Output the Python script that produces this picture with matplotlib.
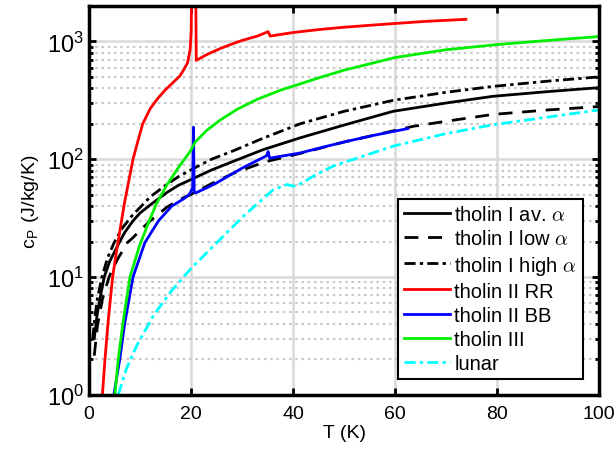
import matplotlib.pyplot as plt
import numpy as np

plt.rcParams['font.family'] = ['Liberation Sans', 'DejaVu Sans']
plt.rcParams['mathtext.fontset'] = 'cm'

# tholin I (average, low and high alpha)
T_av   = [1.0, 1.5, 2.1, 2.95, 4, 5.9, 7, 8.6, 10, 12, 15.2, 17.5, 19.9, 24, 28.3, 34, 41.4, 50,
          59.6, 70, 79.2, 90, 100]
cp_av  = [3.0, 4.6, 6.5, 10, 13.5, 19.6, 24, 30, 35, 41, 52, 60, 67, 81, 96, 120, 152, 195,
          255, 300, 342, 375, 405]
T_lo   = [1.0, 1.6, 2.6, 3.9, 5.5, 7.5, 8.6, 10, 12, 15.2, 17.5, 19.9, 24, 28.3, 34.5, 41.4, 50,
          63.5, 70, 79.2, 90, 100]
cp_lo  = [2.15, 3.8, 6.5, 10, 14, 19.6, 21.6, 25, 30, 39, 45, 50, 62, 76, 95, 112, 140,
          190, 210, 240, 262, 280]
T_hi   = [0.7, 1.1, 1.6, 2.5, 3.6, 4.9, 6.5, 8.6, 10, 12, 15.2, 17.5, 19.9, 24, 28.3, 34, 41.4,
          50, 59.6, 70, 79.2, 90, 100]
cp_hi  = [3.0, 4.5, 6.5, 10, 14.5, 19.6, 26, 34, 39, 48, 61, 71, 81, 100, 118, 150, 200,
          255, 316, 370, 415, 460, 500]
# tholin II RR
T_rr   = [2.6, 3.1, 3.7, 4.6, 5.5, 6.9, 8.6, 9.6, 10.5, 12, 13.5, 15, 16.5, 17.8, 18.6, 19.3,
          19.8, 20.0, 20.1, 20.9, 21.0, 23, 25.7, 28, 30, 33, 35.1, 35.5, 40, 45, 50, 55, 60, 66,
          73.9]
cp_rr  = [1.0, 2.0, 4.1, 10, 18, 42, 100, 145, 200, 270, 330, 390, 450, 510, 580, 660,
          850, 1200, 3000, 3000, 690, 770, 870, 950, 1020, 1110, 1210, 1110, 1190, 1260, 1320,
          1370, 1420, 1480, 1540]
# tholin II BB
T_bb   = [4.85, 5.4, 6.0, 7.0, 8.6, 10.9, 13.6, 16.2, 18.5, 19.6, 20.3, 20.45, 20.6, 21, 23, 25,
          30, 34.8, 35.1, 35.4, 41.4, 46, 50.6, 56, 62.5]
cp_bb  = [1.0, 1.4, 2.0, 4.1, 10, 19.5, 30, 40, 46, 50, 57, 187, 52, 52, 57, 63,
          84, 107, 116, 102, 113, 127, 142, 160, 182]
# tholin III
T_iii  = [5.05, 5.7, 6.6, 8.0, 9.8, 11.5, 13.2, 15.2, 17.5, 19.9, 20.8, 23, 25.7, 29, 33,
          37.5, 45, 50, 60, 70, 80, 90, 100]
cp_iii = [1.0, 2.0, 4.0, 10, 18, 28, 42, 60, 85, 118, 140, 175, 215, 265, 323,
          385, 490, 570, 730, 850, 940, 1020, 1100]
# lunar
T_lun  = [5.7, 7.3, 9.3, 12.6, 15.9, 19.8, 25, 30.3, 36.1, 38.8, 40.0, 41.5, 44, 48, 53.7,
          59.6, 70, 79.2, 90, 100]
cp_lun = [1.0, 1.66, 2.6, 4.7, 7.4, 11.6, 19.5, 33, 55, 61, 59, 62, 72, 88, 106,
          129, 165, 196, 228, 262]

fig = plt.figure(figsize=(6.15, 4.64), dpi=100)
ax = fig.add_axes([0.145, 0.147, 0.829, 0.838])

lw = 2
ax.plot(T_av, cp_av, color='k', lw=lw, label=r'tholin I av. $\alpha$')
ax.plot(T_lo, cp_lo, color='k', lw=lw, dashes=(5, 3.5), label=r'tholin I low $\alpha$')
ax.plot(T_hi, cp_hi, color='k', lw=lw, dashes=(4, 1.5, 1.2, 1.5), label=r'tholin I high $\alpha$')
ax.plot(T_rr, cp_rr, color='#ff0000', lw=lw, label='tholin II RR')
ax.plot(T_bb, cp_bb, color='#0000ff', lw=lw, label='tholin II BB')
ax.plot(T_iii, cp_iii, color='#00ee00', lw=lw, label='tholin III')
ax.plot(T_lun, cp_lun, color='#00ffff', lw=lw, dashes=(4, 1.5, 1.2, 1.5), label='lunar')

ax.set_yscale('log')
ax.set_xlim(0, 100)
ax.set_ylim(1, 2000)
ax.set_xticks([0, 20, 40, 60, 80, 100])

ax.grid(True, which='major', color='#d9d9d9', lw=1.8, ls='-')
ax.grid(True, which='minor', axis='y', color='#c8c8c8', lw=1.5, ls=(0, (1.2, 1.8)))
ax.set_axisbelow(True)

ax.tick_params(which='both', direction='in', top=True, right=True, labelsize=14, width=2)
ax.tick_params(which='major', length=5, pad=7)
ax.tick_params(which='minor', length=3)
ax.tick_params(axis='y', which='major', labelsize=17, pad=4)
for s in ax.spines.values():
    s.set_linewidth(2.5)

ax.set_xlabel('T (K)', fontsize=14, labelpad=2)
ax.set_ylabel(r'c$_\mathregular{P}$ (J/kg/K)', fontsize=14, labelpad=4)

leg = ax.legend(loc='lower right', fontsize=14.5, frameon=True, fancybox=False,
                edgecolor='k', framealpha=1, handlelength=2.3, handletextpad=0.2,
                labelspacing=0.25, borderpad=0.3, borderaxespad=0.8)
leg.get_frame().set_linewidth(1.5)

plt.savefig('out.png', dpi=100)
